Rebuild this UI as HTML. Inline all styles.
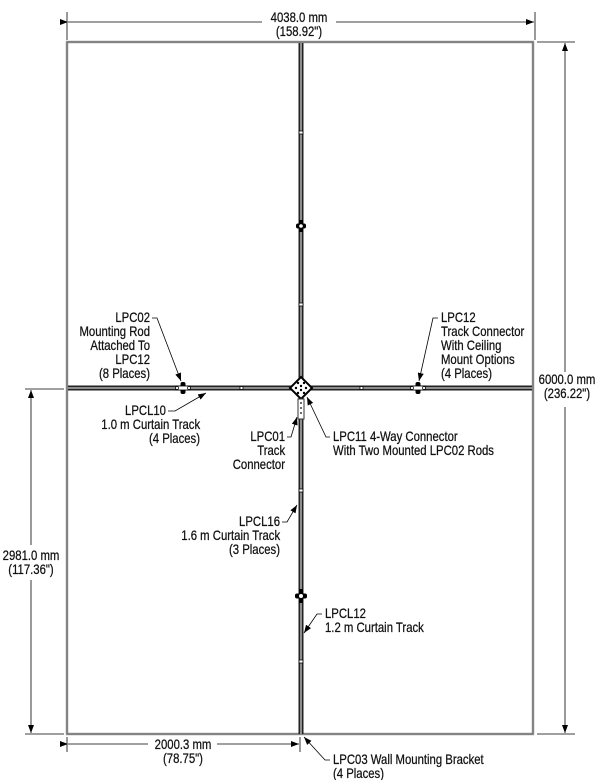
<!DOCTYPE html>
<html><head><style>
html,body{margin:0;padding:0;background:#fff;}
svg{display:block;}
text{font-family:"Liberation Sans",sans-serif;font-size:13.5px;fill:#111;stroke:#111;stroke-width:0.25;transform-box:fill-box;transform:scaleX(0.84);}
text.s{transform-origin:left center;}
text.e{transform-origin:right center;text-anchor:end;}
text.m{transform-origin:center center;text-anchor:middle;}
</style></head><body>
<svg width="603" height="780" viewBox="0 0 603 780" xmlns="http://www.w3.org/2000/svg">
<defs>
<marker id="a" markerWidth="8" markerHeight="6" refX="8" refY="3" orient="auto" markerUnits="userSpaceOnUse"><path d="M0,0 L8,3 L0,6 z" fill="#000"/></marker>
</defs>
<rect x="67" y="42" width="466" height="692" fill="none" stroke="#999" stroke-width="2.5"/>
<rect x="67" y="42" width="466" height="692" fill="none" stroke="#444" stroke-width="0.5"/>
<g>
<rect x="298.5" y="43" width="5" height="691" fill="#222"/>
<rect x="300.2" y="43" width="1.6" height="691" fill="#aaa"/>
<rect x="68" y="385.5" width="464" height="5" fill="#222"/>
<rect x="68" y="387.2" width="464" height="1.6" fill="#aaa"/>
</g>
<g fill="#fff" stroke="#000" stroke-width="0.8">
<rect x="299" y="303" width="4" height="3"/>
<rect x="299" y="489" width="4" height="3"/>
<rect x="299" y="660" width="4" height="3"/>
<rect x="299" y="131" width="4" height="3"/>
<rect x="240" y="386.5" width="3" height="3"/>
<rect x="360" y="386.5" width="3" height="3"/>
</g>
<g>
<g transform="translate(301,226)"><rect x="-5" y="-2.5" width="10" height="5" rx="2" fill="#000"/><rect x="-2" y="-6" width="4" height="12" fill="#000"/><circle r="1.8" fill="#fff"/></g>
<g transform="translate(301,596)"><rect x="-6" y="-2.5" width="12" height="5" rx="2" fill="#000"/><rect x="-2" y="-7" width="4" height="14" fill="#000"/><circle r="2" fill="#fff"/></g>
<g transform="translate(183,388)"><rect x="-2.5" y="-6" width="5" height="12" rx="2" fill="#000"/><rect x="-7" y="-2" width="14" height="4" fill="#fff" stroke="#000" stroke-width="0.8"/><circle cx="-6" r="1.5" fill="#fff" stroke="#000" stroke-width="0.7"/><circle cx="6" r="1.5" fill="#fff" stroke="#000" stroke-width="0.7"/></g>
<g transform="translate(418,388)"><rect x="-2.5" y="-6" width="5" height="12" rx="2" fill="#000"/><rect x="-7" y="-2" width="14" height="4" fill="#fff" stroke="#000" stroke-width="0.8"/><circle cx="-6" r="1.5" fill="#fff" stroke="#000" stroke-width="0.7"/><circle cx="6" r="1.5" fill="#fff" stroke="#000" stroke-width="0.7"/></g>
</g>
<g transform="translate(301,388)">
<path d="M0,-11 L11,0 L0,11 L-11,0 z" fill="#fff" stroke="#000" stroke-width="2"/>
<g fill="#000"><circle cx="-3" cy="-5" r="1.2"/><circle cx="3" cy="-5" r="1.2"/><circle cx="-5" cy="0" r="1.2"/><circle cx="5" cy="0" r="1.2"/><circle cx="-3" cy="5" r="1.2"/><circle cx="3" cy="5" r="1.2"/><circle cx="0" cy="-2" r="1.2"/><circle cx="0" cy="2" r="1.2"/></g>
</g>
<rect x="298" y="399" width="6" height="20" fill="#fff" stroke="#333" stroke-width="1"/>
<g fill="#000"><circle cx="301" cy="403" r="0.9"/><circle cx="301" cy="408" r="0.9"/><circle cx="301" cy="413" r="0.9"/></g>
<g stroke="#000" stroke-width="0.8" fill="none">
<line x1="67" y1="12" x2="67" y2="40"/><line x1="535" y1="12" x2="535" y2="40"/>
<line x1="68" y1="22" x2="262" y2="22" marker-start="url(#a)"/>
<line x1="336" y1="22" x2="534" y2="22" marker-end="url(#a)"/>
<line x1="537" y1="42" x2="575" y2="42"/><line x1="537" y1="734" x2="575" y2="734"/>
<line x1="565" y1="372" x2="565" y2="43" marker-end="url(#a)"/>
<line x1="565" y1="407" x2="565" y2="733" marker-end="url(#a)"/>
<line x1="25" y1="389" x2="64" y2="389"/><line x1="25" y1="734" x2="64" y2="734"/>
<line x1="31" y1="545" x2="31" y2="390" marker-end="url(#a)"/>
<line x1="31" y1="580" x2="31" y2="733" marker-end="url(#a)"/>
<line x1="67" y1="737" x2="67" y2="752"/><line x1="300" y1="737" x2="300" y2="752"/>
<line x1="68" y1="744" x2="148" y2="744" marker-start="url(#a)"/>
<line x1="217" y1="744" x2="299" y2="744" marker-end="url(#a)"/>
<path d="M152,318 H157 L181,381" marker-end="url(#a)"/>
<path d="M438,318 H433 L419,381" marker-end="url(#a)"/>
<path d="M168,411 H175 L206,393" marker-end="url(#a)"/>
<path d="M287,437 H291 L297,417" marker-end="url(#a)"/>
<path d="M330,437 H326 L307,397" marker-end="url(#a)"/>
<path d="M282,522 H287 L297,505" marker-end="url(#a)"/>
<path d="M322,614 H317 L304,633" marker-end="url(#a)"/>
<path d="M330,760 H325 L304,737" marker-end="url(#a)"/>
</g>
<g>
<text class="m" x="299" y="22">4038.0 mm</text>
<text class="m" x="299" y="36">(158.92")</text>
<text class="m" x="567" y="384">6000.0 mm</text>
<text class="m" x="567" y="398">(236.22")</text>
<text class="m" x="31" y="560">2981.0 mm</text>
<text class="m" x="31" y="574">(117.36")</text>
<text class="m" x="183" y="749">2000.3 mm</text>
<text class="m" x="183" y="763">(78.75")</text>
<text class="e" x="150" y="322">LPC02</text>
<text class="e" x="150" y="336">Mounting Rod</text>
<text class="e" x="150" y="350">Attached To</text>
<text class="e" x="150" y="364">LPC12</text>
<text class="e" x="150" y="378">(8 Places)</text>
<text class="e" x="166" y="415">LPCL10</text>
<text class="e" x="200" y="429">1.0 m Curtain Track</text>
<text class="e" x="200" y="443">(4 Places)</text>
<text class="e" x="285" y="441">LPC01</text>
<text class="e" x="285" y="455">Track</text>
<text class="e" x="285" y="469">Connector</text>
<text class="e" x="280" y="526">LPCL16</text>
<text class="e" x="280" y="540">1.6 m Curtain Track</text>
<text class="e" x="280" y="554">(3 Places)</text>
<text class="s" x="441" y="322">LPC12</text>
<text class="s" x="441" y="336">Track Connector</text>
<text class="s" x="441" y="350">With Ceiling</text>
<text class="s" x="441" y="364">Mount Options</text>
<text class="s" x="441" y="378">(4 Places)</text>
<text class="s" x="333" y="441">LPC11 4-Way Connector</text>
<text class="s" x="333" y="455">With Two Mounted LPC02 Rods</text>
<text class="s" x="325" y="618">LPCL12</text>
<text class="s" x="325" y="632">1.2 m Curtain Track</text>
<text class="s" x="333" y="764">LPC03 Wall Mounting Bracket</text>
<text class="s" x="333" y="778">(4 Places)</text>
</g>
</svg>
</body></html>
